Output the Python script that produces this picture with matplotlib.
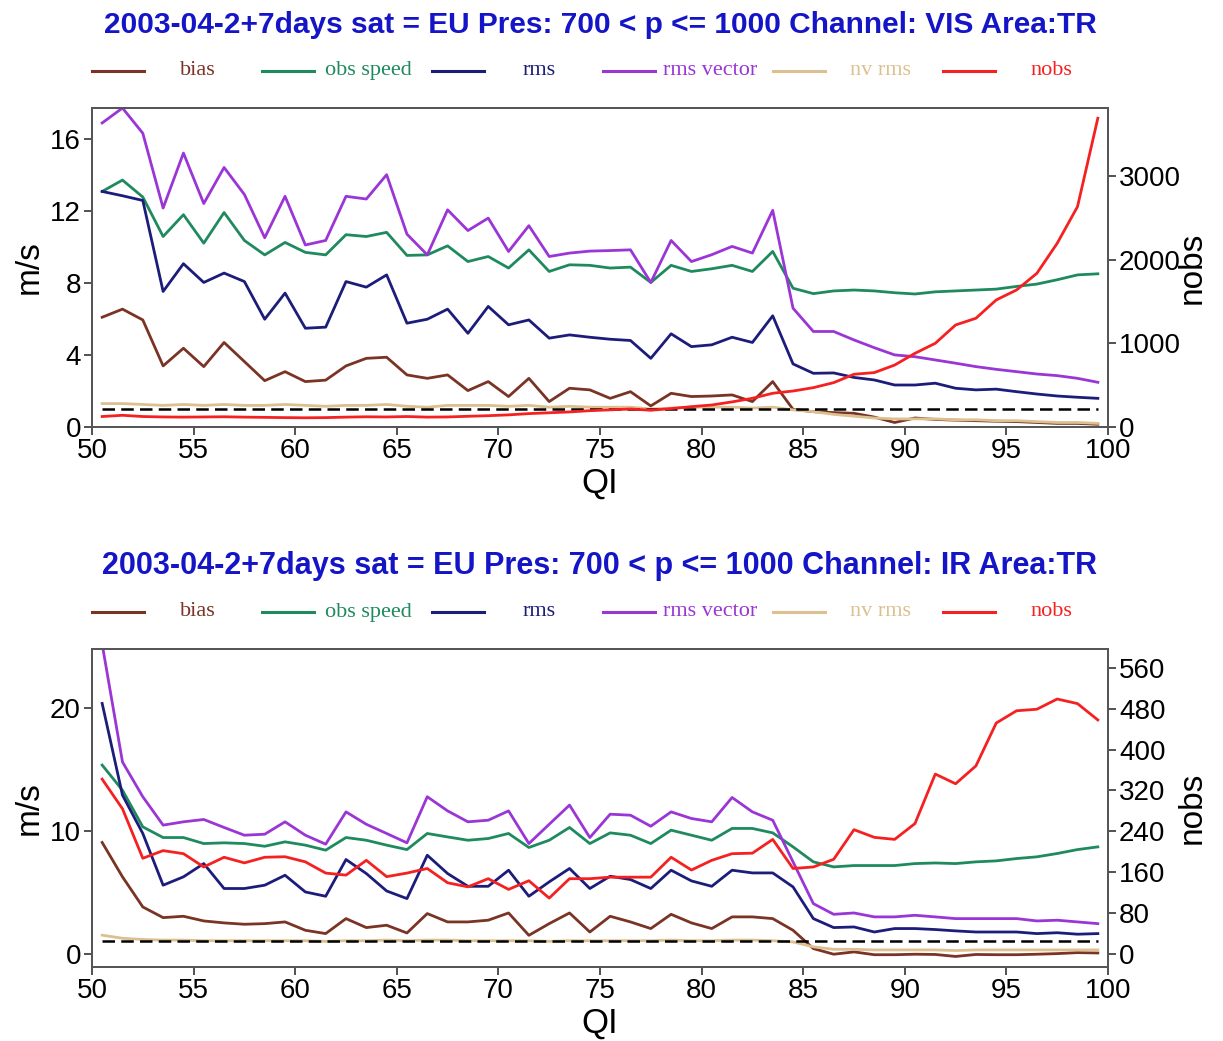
import numpy as np
import matplotlib
matplotlib.use("Agg")
import matplotlib.pyplot as plt
from matplotlib.lines import Line2D

# QI bin centres
qi = np.arange(50.5, 100.0, 1.0)

# ---- VIS channel (top panel) ----
vis_bias = [6.09, 6.54, 5.94, 3.39, 4.37, 3.35, 4.69, 3.63, 2.57, 3.07, 2.52, 2.6, 3.39, 3.81, 3.87, 2.89, 2.7, 2.89, 2.02,
            2.52, 1.69, 2.7, 1.41, 2.15, 2.06, 1.59, 1.96, 1.17, 1.87, 1.69, 1.72, 1.78, 1.41, 2.52, 0.98, 0.85, 0.8, 0.76,
            0.55, 0.25, 0.5, 0.42, 0.38, 0.35, 0.32, 0.3, 0.25, 0.2, 0.2, 0.15]
vis_speed = [13.07, 13.7, 12.76, 10.57, 11.78, 10.2, 11.9, 10.35, 9.55, 10.24, 9.69, 9.55, 10.67, 10.57, 10.8, 9.52, 9.55, 10.05, 9.18,
             9.46, 8.82, 9.83, 8.63, 9.0, 8.97, 8.82, 8.87, 8.02, 8.97, 8.63, 8.78, 8.97, 8.63, 9.74, 7.7,
             7.4, 7.55, 7.6, 7.55, 7.45, 7.38, 7.5, 7.55, 7.6, 7.65, 7.8, 7.93, 8.17, 8.44, 8.5]
vis_rms = [13.07, 12.83, 12.57, 7.52, 9.06, 8.02, 8.54, 8.07, 5.98, 7.43, 5.48, 5.54, 8.07, 7.76, 8.44, 5.76, 5.98, 6.54, 5.2,
           6.69, 5.67, 5.94, 4.93, 5.11, 4.98, 4.87, 4.8, 3.81, 5.17, 4.46, 4.56, 4.98, 4.69, 6.17, 3.5, 2.98, 3.0, 2.75,
           2.61, 2.33, 2.33, 2.43, 2.15, 2.06, 2.1, 1.96, 1.83, 1.72, 1.65, 1.59]
vis_rmsvec = [16.87, 17.7, 16.3, 12.15, 15.2, 12.4, 14.4, 12.9, 10.5, 12.8, 10.1, 10.35, 12.8, 12.65, 14.0, 10.7, 9.55, 12.05, 10.9,
              11.59, 9.74, 11.17, 9.46, 9.65, 9.76, 9.79, 9.83, 8.02, 10.35, 9.18, 9.56, 10.02, 9.65, 12.02, 6.59, 5.3, 5.3, 4.83,
              4.4, 4.0, 3.9, 3.72, 3.54, 3.35, 3.2, 3.07, 2.94, 2.85, 2.7, 2.48]
vis_nvrms = [1.3, 1.3, 1.25, 1.2, 1.25, 1.2, 1.25, 1.2, 1.2, 1.25, 1.2, 1.15, 1.2, 1.2, 1.25, 1.15, 1.1, 1.2, 1.2, 1.2,
             1.15, 1.2, 1.1, 1.15, 1.1, 1.1, 1.1, 1.0, 1.05, 1.1, 1.1, 1.1, 1.05, 1.1, 0.95, 0.85, 0.7, 0.6, 0.5, 0.45,
             0.45, 0.45, 0.4, 0.4, 0.35, 0.35, 0.3, 0.25, 0.25, 0.2]
vis_nobs = [125, 140, 125, 120, 118, 120, 122, 118, 115, 112, 110, 112, 118, 122, 120, 125, 118, 120, 128,
            135, 145, 160, 170, 180, 195, 205, 215, 200, 220, 243, 263, 300, 343, 403, 430, 470, 530, 630, 650, 740,
            880, 1000, 1219, 1299, 1518, 1637, 1836, 2195, 2633, 3689]

# ---- IR channel (bottom panel) ----
ir_bias = [9.05, 6.25, 3.8, 2.93, 3.04, 2.66, 2.5, 2.39, 2.44, 2.58, 1.9, 1.63, 2.85, 2.12, 2.31, 1.68, 3.26, 2.58, 2.58,
           2.72, 3.31, 1.49, 2.44, 3.31, 1.76, 3.04, 2.58, 2.04, 3.2, 2.5, 2.04, 2.99, 2.99, 2.85, 1.9, 0.41, -0.05, 0.14,
           -0.09, -0.09, -0.05, -0.07, -0.23, -0.07, -0.09, -0.09, -0.05, 0.0, 0.08, 0.05]
ir_speed = [15.35, 13.3, 10.32, 9.45, 9.45, 8.96, 9.02, 8.96, 8.74, 9.1, 8.83, 8.42, 9.45, 9.23, 8.83, 8.47, 9.78, 9.5, 9.23,
            9.37, 9.78, 8.64, 9.23, 10.27, 8.96, 9.83, 9.64, 8.96, 10.05, 9.64, 9.23, 10.19, 10.19, 9.83, 8.69, 7.47, 7.06, 7.17,
            7.17, 7.17, 7.33, 7.38, 7.33, 7.47, 7.55, 7.74, 7.88, 8.15, 8.47, 8.69]
ir_rms = [20.37, 12.9, 9.78, 5.57, 6.25, 7.33, 5.3, 5.3, 5.57, 6.38, 5.02, 4.67, 7.66, 6.52, 5.1, 4.48, 8.01, 6.52, 5.48,
          5.48, 6.79, 4.67, 5.84, 6.93, 5.3, 6.3, 6.03, 5.3, 6.79, 5.92, 5.48, 6.79, 6.57, 6.57, 5.43, 2.85, 2.12, 2.17,
          1.76, 2.04, 2.04, 1.96, 1.85, 1.76, 1.76, 1.76, 1.63, 1.7, 1.58, 1.63]
ir_rmsvec = [25.2, 15.6, 12.77, 10.46, 10.73, 10.92, 10.27, 9.64, 9.72, 10.73, 9.64, 8.91, 11.54, 10.53, 9.78, 9.02, 12.77, 11.62, 10.73,
             10.86, 11.62, 8.96, 10.53, 12.09, 9.45, 11.35, 11.27, 10.37, 11.54, 11.0, 10.73, 12.71, 11.54, 10.86, 7.47, 4.07, 3.2, 3.31,
             2.99, 2.99, 3.12, 2.99, 2.85, 2.85, 2.85, 2.85, 2.66, 2.72, 2.58, 2.44]
ir_nvrms = [1.5, 1.25, 1.15, 1.1, 1.1, 1.05, 1.05, 1.05, 1.05, 1.05, 1.05, 1.0, 1.05, 1.05, 1.1, 1.05, 1.1, 1.1, 1.05, 1.05,
            1.05, 1.05, 1.0, 1.05, 1.05, 1.05, 1.05, 1.05, 1.1, 1.05, 1.05, 1.1, 1.1, 1.05, 0.95, 0.55, 0.35, 0.35, 0.3, 0.3,
            0.3, 0.3, 0.25, 0.3, 0.3, 0.3, 0.3, 0.3, 0.3, 0.3]
ir_nobs = [342, 284, 187, 202, 196, 170, 189, 178, 189, 190, 180, 158, 154, 183, 151, 158, 167, 139, 131,
           147, 126, 143, 109, 147, 147, 150, 150, 150, 189, 164, 183, 196, 197, 224, 167, 170, 185, 243,
           228, 224, 255, 352, 333, 368, 452, 476, 479, 499, 490, 458]

ref_level = 1.0

labels = ["bias", "obs speed", "rms", "rms vector", "nv rms", "nobs"]
colors = ["#7a3324", "#1e8a5e", "#1c1c7a", "#9a35d6", "#dcc090", "#f52020"]

titles = ["2003-04-2+7days sat = EU Pres: 700 < p <= 1000 Channel: VIS Area:TR",
          "2003-04-2+7days sat = EU Pres: 700 < p <= 1000 Channel: IR Area:TR"]

plt.rcParams["font.family"] = ["Liberation Sans", "DejaVu Sans"]

W, H = 1223, 1041
fig = plt.figure(figsize=(W / 100, H / 100), dpi=100)

panels = [
    dict(series=[vis_bias, vis_speed, vis_rms, vis_rmsvec, vis_nvrms], nobs=vis_nobs,
         ylim=(0, 17.7), yticks=[0, 4, 8, 12, 16], ylim2=(0, 3811), yticks2=[0, 1000, 2000, 3000],
         box=(92, 108, 1108, 427), title_y=25, leg_y=71, tsize=21.5),
    dict(series=[ir_bias, ir_speed, ir_rms, ir_rmsvec, ir_nvrms], nobs=ir_nobs,
         ylim=(-1.09, 24.8), yticks=[0, 10, 20], ylim2=(-26, 597), yticks2=list(range(0, 561, 80)),
         box=(92, 649, 1108, 967), title_y=566, leg_y=612, tsize=22),
]

for p, title in zip(panels, titles):
    x0, y0, x1, y1 = p["box"]
    ax = fig.add_axes([x0 / W, 1 - y1 / H, (x1 - x0) / W, (y1 - y0) / H])
    for vals, c in zip(p["series"], colors[:5]):
        ax.plot(qi, vals, color=c, lw=2.0)
    ax.plot(qi, [ref_level] * len(qi), color="black", lw=1.8, ls=(0, (5, 2.5)))
    ax.set_xlim(50, 100)
    ax.set_ylim(*p["ylim"])
    ax.set_xticks(range(50, 101, 5))
    ax.set_yticks(p["yticks"])
    ax.set_xlabel("QI", fontsize=25, labelpad=2)
    ax.set_ylabel("m/s", fontsize=24, labelpad=4)

    ax2 = ax.twinx()
    ax2.plot(qi, p["nobs"], color=colors[5], lw=2.0)
    ax2.set_ylim(*p["ylim2"])
    ax2.set_yticks(p["yticks2"])
    ax2.set_ylabel("nobs", fontsize=24)
    ax2.yaxis.set_label_coords(1.068, 0.5)

    for a in (ax, ax2):
        a.tick_params(direction="out", length=6, width=1.2, labelsize=20, pad=2, color="#333333")
        for s in a.spines.values():
            s.set_color("#555555")
            s.set_linewidth(1.3)

    fig.text(600 / W, 1 - p["title_y"] / H, title, ha="center", va="center",
             fontsize=p["tsize"], fontweight="bold", color="#1515c8")

    # legend row: line sample followed by coloured label
    for k, (lab, c) in enumerate(zip(labels, colors)):
        lx = 92 + 170.2 * k
        ly = 1 - p["leg_y"] / H
        fig.add_artist(Line2D([lx / W, (lx + 52) / W], [ly, ly], color=c, lw=2.2,
                              transform=fig.transFigure))
        fig.text((198 + 170.6 * k) / W, ly, lab, ha="center", va="center",
                 fontsize=16, color=c, family=["Liberation Serif", "DejaVu Serif"])

fig.savefig("out.png", dpi=100)
